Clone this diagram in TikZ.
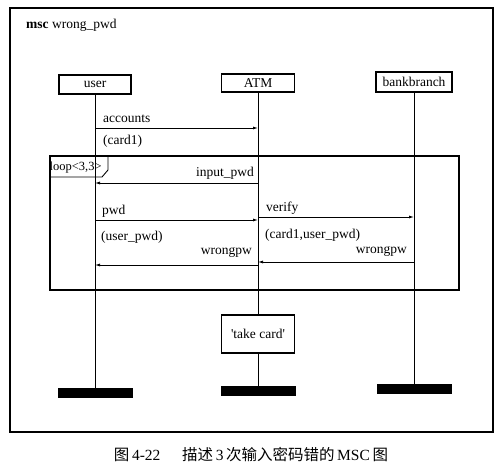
\documentclass[tikz,border=0pt]{standalone}
\usepackage{fontspec}
\setmainfont{Liberation Serif}
\newfontfamily\cjk{Noto Sans CJK SC}
\usetikzlibrary{arrows.meta}
\begin{document}
\begin{tikzpicture}[x=1pt,y=-1pt,
  inst/.style={draw,line width=1.2pt,inner sep=0pt,font=\fontsize{13.5}{15}\selectfont},
  endbar/.style={fill=black,draw=none,minimum width=75pt,minimum height=10pt,inner sep=0pt},
  life/.style={line width=0.75pt},
  msg/.style={line width=0.75pt,-{Latex[length=5pt,width=3pt]}},
  lbl/.style={font=\fontsize{13.5}{15}\selectfont,inner sep=0pt},
  frame/.style={line width=1.3pt}]
\useasboundingbox (0,0) rectangle (501,474);
% outer frame
\draw[frame] (10,8) rectangle (493,432);
\node[lbl,anchor=west] (title) at (26,25) {\textbf{msc} wrong\_pwd};
% instances
\node[inst,minimum width=72pt,minimum height=19pt] (user) at (95,84.5) {user};
\node[inst,minimum width=73pt,minimum height=18pt] (atm) at (258,83) {ATM};
\node[inst,minimum width=76pt,minimum height=20pt] (bank) at (414,82) {bankbranch};
% end bars
\node[endbar] (uend) at (95,393) {};
\node[endbar] (aend) at (258,391) {};
\node[endbar] (bend) at (414,389) {};
% take card action
\node[inst,minimum width=73pt,minimum height=38pt] (take) at (258,334) {\textquotesingle take card\textquotesingle};
% lifelines
\draw[life] (user.south) -- (uend.north);
\draw[life] (atm.south) -- (take.north);
\draw[life] (take.south) -- (aend.north);
\draw[life] (bank.south) -- (bend.north);
% message coordinates
\coordinate (u1) at (95,128);  \coordinate (a1) at (258,128);
\coordinate (a2) at (258,183); \coordinate (u2) at (95,183);
\coordinate (u3) at (95,220);  \coordinate (a3) at (258,220);
\coordinate (a4) at (258,217); \coordinate (b4) at (414,217);
\coordinate (b5) at (414,262); \coordinate (a5) at (258,262);
\coordinate (a6) at (258,265); \coordinate (u6) at (95,265);
% messages
\draw[msg] (u1) -- (a1);
\node[lbl,anchor=west] (l1) at (103,119) {accounts};
\node[lbl,anchor=west] (l1b) at (103,141) {(card1)};
% loop frame
\draw[frame] (50,156) rectangle (459,290);
\draw[line width=0.9pt] (50,177) -- (102,177) -- (108,170) -- (108,156);
\node[lbl,anchor=west,font=\fontsize{12.5}{14}\selectfont] (loop) at (49.5,167) {loop<3,3>};
\draw[msg] (a2) -- (u2);
\node[lbl,anchor=east] (l2) at (254,173) {input\_pwd};
\draw[msg] (u3) -- (a3);
\node[lbl,anchor=west] (l3) at (102,211) {pwd};
\node[lbl,anchor=west] (l3b) at (101,237) {(user\_pwd)};
\draw[msg] (a4) -- (b4);
\node[lbl,anchor=west] (l4) at (266,208) {verify};
\node[lbl,anchor=west] (l4b) at (265,235) {(card1,user\_pwd)};
\draw[msg] (b5) -- (a5);
\node[lbl,anchor=east] (l5) at (407,251) {wrongpw};
\draw[msg] (a6) -- (u6);
\node[lbl,anchor=east] (l6) at (252,252) {wrongpw};
% caption
\node[lbl,font=\fontsize{15.5}{17}\selectfont] (cap) at (251,455) {{\cjk 图}\,4-22\hspace{1.4em}{\cjk 描述}\,3\,{\cjk 次输入密码错的}\,MSC\,{\cjk 图}};
\end{tikzpicture}
\end{document}
